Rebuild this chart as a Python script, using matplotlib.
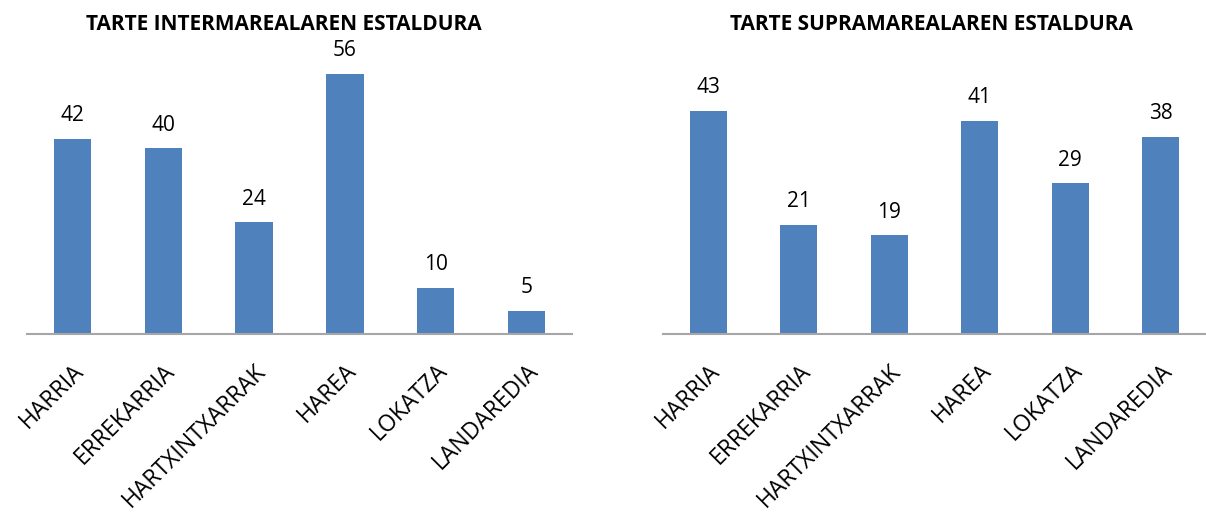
import matplotlib.pyplot as plt
import numpy as np

plt.rcParams['font.family'] = ['Open Sans', 'DejaVu Sans']

categories = ['HARRIA', 'ERREKARRIA', 'HARTXINTXARRAK', 'HAREA', 'LOKATZA', 'LANDAREDIA']
intermareal = [42, 40, 24, 56, 10, 5]
supramareal = [43, 21, 19, 41, 29, 38]
titles = ['TARTE INTERMAREALAREN ESTALDURA', 'TARTE SUPRAMAREALAREN ESTALDURA']

W, H = 1206, 514
fig = plt.figure(figsize=(W / 100, H / 100), dpi=100)

# axes boxes in pixels: left, right, baseline, ymax
boxes = [(27, 572, 334, 60), (663, 1206, 334, 53.7)]
title_x = [284, 931]
color = '#4F81BD'

for (x0, x1, base, ymax), vals, title, tx in zip(boxes, [intermareal, supramareal], titles, title_x):
    ax = fig.add_axes([x0 / W, (H - base) / H, (x1 - x0) / W, 279 / H])
    x = np.arange(len(categories))
    bars = ax.bar(x, vals, width=0.41, color=color)
    ax.set_xlim(-0.5, len(categories) - 0.5)
    ax.set_ylim(0, ymax)
    for s in ['top', 'right', 'left']:
        ax.spines[s].set_visible(False)
    ax.spines['bottom'].set_color('#A6A6A6')
    ax.spines['bottom'].set_linewidth(1.5)
    ax.set_yticks([])
    ax.set_xticks(x)
    ax.set_xticklabels(categories, rotation=45, ha='right', rotation_mode='anchor', fontsize=16.5)
    ax.tick_params(axis='x', length=0, pad=18)
    for b, v in zip(bars, vals):
        ax.annotate(str(v), (b.get_x() + b.get_width() / 2, v), xytext=(0, 9),
                    textcoords='offset points', ha='center', va='bottom', fontsize=15)
    fig.text(tx / W, 1 - 24 / H, title, ha='center', va='center', fontsize=15, fontweight='bold')

fig.savefig('out.png', dpi=100)
